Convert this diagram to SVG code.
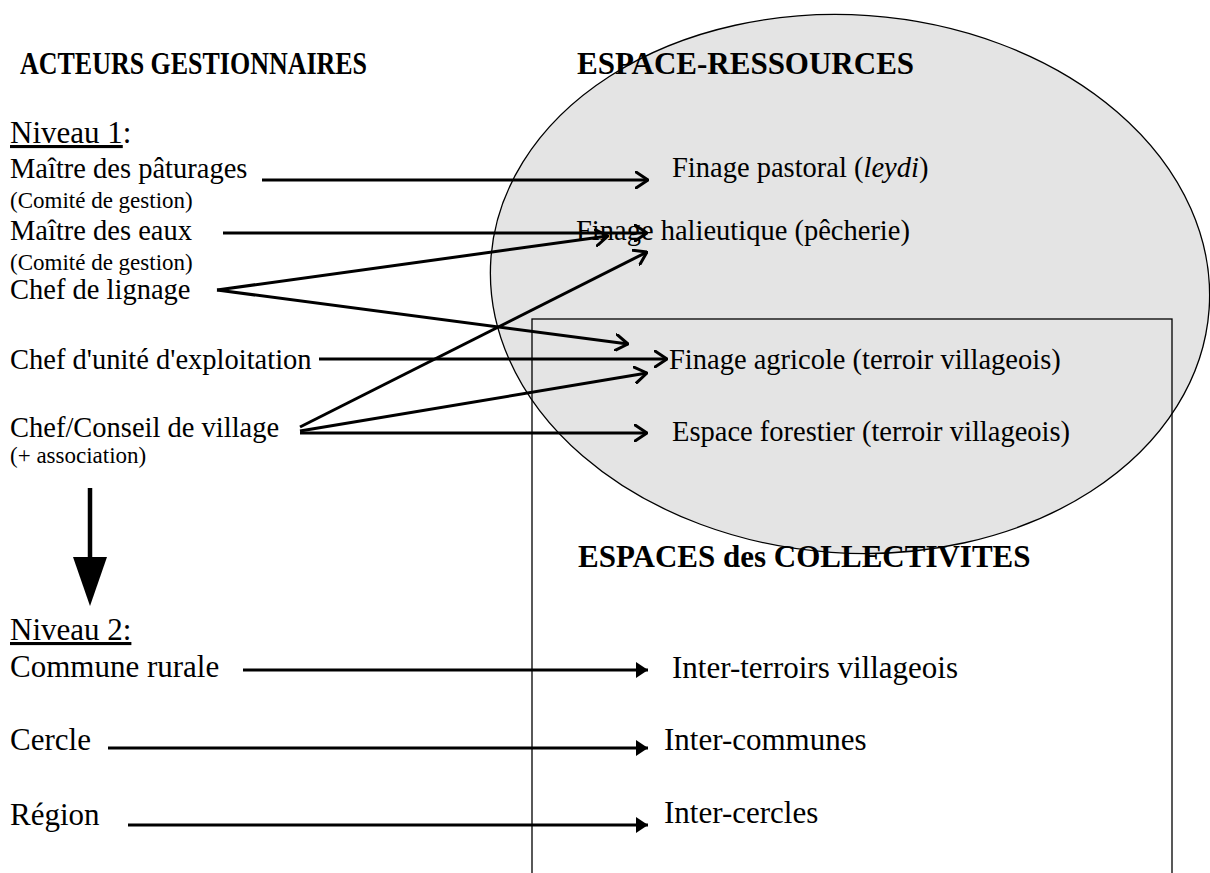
<svg xmlns="http://www.w3.org/2000/svg" width="1210" height="873" viewBox="0 0 1210 873">
<defs>
<style>
.t{font-family:"Liberation Serif","Times New Roman",serif;fill:#000}
.m{font-size:28.5px}
.l{font-size:31px}
.n{font-size:31px}
.s{font-size:23px}
.b{font-size:31px;font-weight:bold}
.c{stroke:#000;stroke-width:3;fill:none}
</style>
<marker id="open" viewBox="0 0 14 18" refX="13" refY="9" markerWidth="14" markerHeight="18" markerUnits="userSpaceOnUse" orient="auto">
<path d="M1,1 L13,9 L1,17" stroke="#000" stroke-width="3" fill="none" stroke-linecap="round" stroke-linejoin="round"/>
</marker>
<marker id="solid" viewBox="0 0 12 16" refX="12" refY="8" markerWidth="12" markerHeight="16" markerUnits="userSpaceOnUse" orient="auto">
<path d="M0,0 L12,8 L0,16 Z" fill="#000"/>
</marker>
</defs>
<rect width="1210" height="873" fill="#fff"/>
<g id="espace-ressources-zone">
<ellipse cx="850" cy="284" rx="360" ry="269" transform="rotate(4 850 284)" fill="#e4e4e4" stroke="#000" stroke-width="1.3"/>
</g>
<g id="espaces-collectivites-zone">
<rect x="532" y="319" width="640" height="600" fill="none" stroke="#000" stroke-width="1.3"/>
</g>
<g id="titles">
<text class="t b" x="20" y="74" textLength="347" lengthAdjust="spacingAndGlyphs">ACTEURS GESTIONNAIRES</text>
<text class="t b" x="577" y="74">ESPACE-RESSOURCES</text>
<text class="t b" x="578" y="567">ESPACES des COLLECTIVITES</text>
</g>
<g id="niveau1">
<text class="t n" x="10" y="143"><tspan text-decoration="underline">Niveau 1</tspan>:</text>
</g>
<g id="maitre-paturages"><text class="t m" x="10" y="178">Maître des pâturages</text><text class="t s" x="10" y="208">(Comité de gestion)</text></g>
<g id="maitre-eaux"><text class="t m" x="10" y="240">Maître des eaux</text><text class="t s" x="10" y="270">(Comité de gestion)</text></g>
<g id="chef-lignage"><text class="t m" x="10" y="299">Chef de lignage</text></g>
<g id="chef-unite"><text class="t m" x="10" y="369">Chef d'unité d'exploitation</text></g>
<g id="chef-village"><text class="t m" x="10" y="437">Chef/Conseil de village</text><text class="t s" x="10" y="463">(+ association)</text></g>
<g id="niveau2"><text class="t n" x="10" y="640" text-decoration="underline">Niveau 2:</text></g>
<g id="commune"><text class="t l" x="10" y="677">Commune rurale</text></g>
<g id="cercle"><text class="t l" x="10" y="750">Cercle</text></g>
<g id="region"><text class="t l" x="10" y="825">Région</text></g>
<g id="finage-pastoral"><text class="t m" x="672" y="177">Finage pastoral (<tspan font-style="italic">leydi</tspan>)</text></g>
<g id="finage-halieutique"><text class="t m" x="576" y="240">Finage halieutique (pêcherie)</text></g>
<g id="finage-agricole"><text class="t m" x="669" y="369">Finage agricole (terroir villageois)</text></g>
<g id="espace-forestier"><text class="t m" x="672" y="441">Espace forestier (terroir villageois)</text></g>
<g id="inter-terroirs"><text class="t l" x="672" y="678">Inter-terroirs villageois</text></g>
<g id="inter-communes"><text class="t l" x="664" y="750">Inter-communes</text></g>
<g id="inter-cercles"><text class="t l" x="664" y="823">Inter-cercles</text></g>
<g id="connectors">
<line class="c" x1="262" y1="180" x2="648" y2="180" marker-end="url(#open)"/>
<line class="c" x1="223" y1="233" x2="647" y2="233" marker-end="url(#open)"/>
<line class="c" x1="217" y1="290" x2="608" y2="236" marker-end="url(#open)"/>
<line class="c" x1="217" y1="290" x2="628" y2="344" marker-end="url(#open)"/>
<line class="c" x1="319" y1="359" x2="667" y2="359" marker-end="url(#open)"/>
<line class="c" x1="300" y1="427" x2="647" y2="252" marker-end="url(#open)"/>
<line class="c" x1="300" y1="431" x2="647" y2="373" marker-end="url(#open)"/>
<line class="c" x1="300" y1="433" x2="647" y2="433" marker-end="url(#open)"/>
<line class="c" x1="243" y1="670" x2="648" y2="670" marker-end="url(#solid)"/>
<line class="c" x1="108" y1="748" x2="648" y2="748" marker-end="url(#solid)"/>
<line class="c" x1="128" y1="825" x2="648" y2="825" marker-end="url(#solid)"/>
<line x1="90" y1="488" x2="90" y2="560" stroke="#000" stroke-width="4.5"/>
<path d="M73,557 L107,557 L90,606 Z" fill="#000"/>
</g>
</svg>
